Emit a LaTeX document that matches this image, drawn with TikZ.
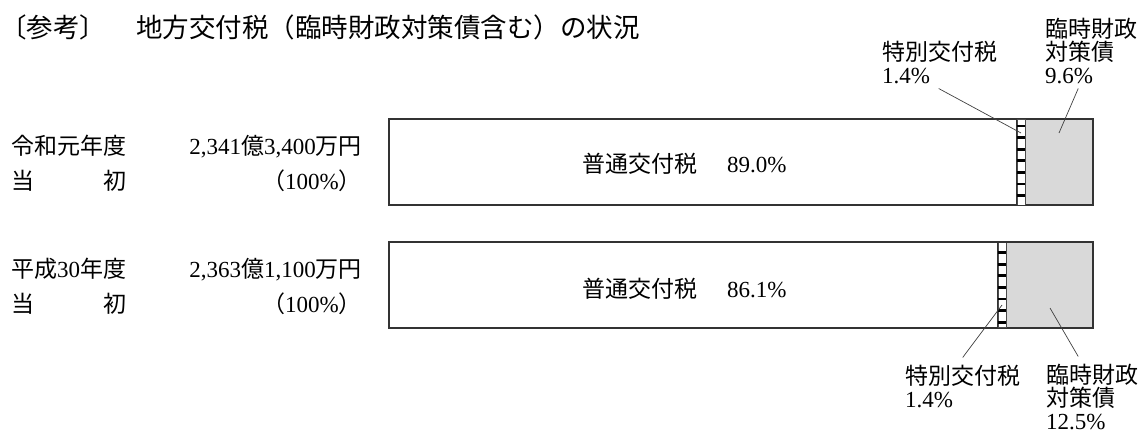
\documentclass[tikz,border=0pt]{standalone}
\usepackage{fontspec}
\setmainfont{Liberation Serif}
\newfontfamily\jp{Noto Sans CJK JP}
\usetikzlibrary{calc}
\begin{document}
\begin{tikzpicture}[x=1pt,y=-1pt,
  txt/.style={inner sep=0pt, font=\fontsize{23}{23}\selectfont},
  ttl/.style={inner sep=0pt, font=\fontsize{26.5}{26.5}\selectfont},
  lbl/.style={txt, align=left},
  mainbar/.style={draw=black!80, line width=1.1pt, fill=white, inner sep=0pt},
  stripbar/.style={draw=black!70, line width=0.8pt, fill=white, inner sep=0pt},
  graybar/.style={draw=black!80, line width=1.1pt, fill=gray!30, inner sep=0pt},
  leader/.style={draw=black!75, line width=0.7pt}
]
\useasboundingbox (0,0) rectangle (1145,432);

% title
\node[ttl, anchor=base west] (sanko) at (0,37) {\jp 〔参考〕};
\node[ttl, anchor=base west] (title) at (136,37) {\jp 地方交付税（臨時財政対策債含む）の状況};

% row labels
\node[txt, anchor=base west] (y1) at (11,154) {\jp 令和元年度};
\node[txt, anchor=base west] (t1) at (11,189) {\jp 当　　　初};
\node[txt, anchor=base east] (a1) at (362,154) {2,341{\jp 億}3,400{\jp 万円}};
\node[txt, anchor=base east] (p1) at (362,189) {{\jp （}100\%{\jp ）}};
\node[txt, anchor=base west] (y2) at (11,277) {{\jp 平成}30{\jp 年度}};
\node[txt, anchor=base west] (t2) at (11,312) {\jp 当　　　初};
\node[txt, anchor=base east] (a2) at (362,277) {2,363{\jp 億}1,100{\jp 万円}};
\node[txt, anchor=base east] (p2) at (362,312) {{\jp （}100\%{\jp ）}};

% bar 1
\node[mainbar, minimum width=628pt, minimum height=86pt] (m1) at (703,162) {};
\node[graybar, minimum width=68pt, minimum height=86pt] (g1) at (1059,162) {};
\node[stripbar, minimum width=8pt, minimum height=86pt] (s1) at (1021,162) {};
\foreach \i in {0,...,6} \fill[black] (1017,126+11.6*\i-1.35) rectangle (1025,126+11.6*\i+1.35);
\draw[draw=black!80, line width=1.1pt] (m1.north west) rectangle (g1.south east);

% bar 2
\node[mainbar, minimum width=609pt, minimum height=85pt] (m2) at (693.5,285) {};
\node[graybar, minimum width=87pt, minimum height=85pt] (g2) at (1049.5,285) {};
\node[stripbar, minimum width=8pt, minimum height=85pt] (s2) at (1002,285) {};
\foreach \i in {0,...,6} \fill[black] (998,252.5+11.65*\i-1.35) rectangle (1006,252.5+11.65*\i+1.35);
\draw[draw=black!80, line width=1.1pt] (m2.north west) rectangle (g2.south east);

% bar texts
\node[txt, anchor=base west] (n1) at (582,172) {{\jp 普通交付税}\hspace{30pt}89.0\%};
\node[txt, anchor=base west] (n2) at (582,297) {{\jp 普通交付税}\hspace{30pt}86.1\%};

% labels (base anchor = baseline of the last line)
\node[lbl, anchor=base west] (tl1) at (882,83) {{\jp 特別交付税}\\1.4\%};
\node[lbl, anchor=base west] (tl2) at (1045,83) {{\jp 臨時財政}\\{\jp 対策債}\\9.6\%};
\node[lbl, anchor=base west] (bl1) at (905,407) {{\jp 特別交付税}\\1.4\%};
\node[lbl, anchor=base west] (bl2) at (1046,429) {{\jp 臨時財政}\\{\jp 対策債}\\12.5\%};

% leaders
\draw[leader] ($(tl1.south)+(-1,5)$) -- ($(s1.center)+(0,-29)$);
\draw[leader] ($(tl2.south)+(-13,5)$) -- ($(g1.center)+(0,-29)$);
\draw[leader] ($(s2.center)+(0,20)$) -- ($(bl1.north)+(0,-7)$);
\draw[leader] ($(g2.center)+(0.5,23)$) -- ($(bl2.north)+(-14,-7)$);
\end{tikzpicture}
\end{document}
